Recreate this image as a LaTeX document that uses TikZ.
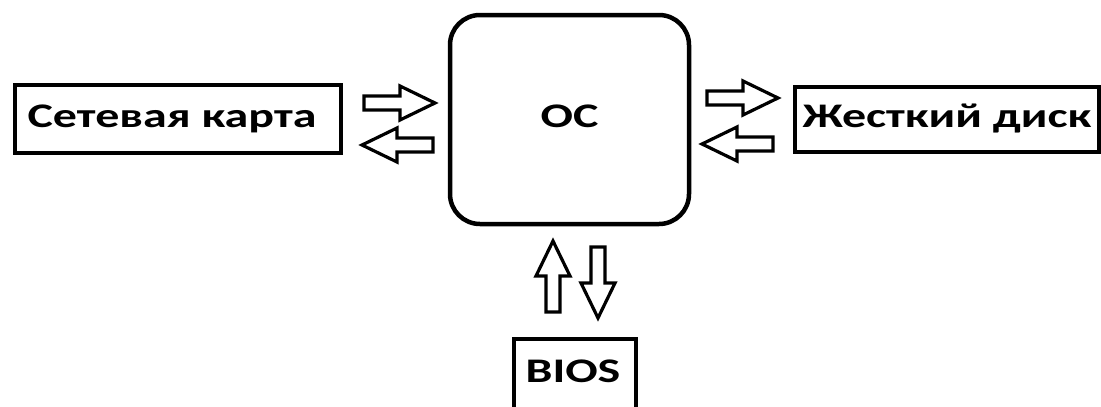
\documentclass[tikz,border=0pt]{standalone}
\usepackage{fontspec}
\setmainfont{Carlito}
\newcommand{\lbl}[1]{\scalebox{1.39}[1]{\bfseries #1}}
\begin{document}
\begin{tikzpicture}[x=1pt,y=-1pt,
  box/.style={draw, line width=3.5pt, inner sep=0pt, font=\fontsize{34.5}{40}\selectfont,
     text height=22pt, text depth=6pt},
  arrowline/.style={draw, line width=3.2pt, line join=miter, fill=white},
  pics/barrow/.style={code={
    \path[arrowline] (0,-7) -- (36,-7) -- (36,-17) -- (71,0) -- (36,17) -- (36,7) -- (0,7) -- cycle;
  }}]
\useasboundingbox (0,0) rectangle (1101,407);
\fill[white] (0,0) rectangle (1101,407);
\node[box, minimum width=326pt, minimum height=68pt] (net) at (178,119) {\lbl{Сетевая карта}\kern12pt};
\node[box, minimum width=304pt, minimum height=65pt] (hdd) at (947,119.5) {\lbl{Жесткий диск}};
\node[box, line width=4.5pt, rounded corners=30pt, minimum width=239pt, minimum height=209pt] (os) at (569.5,119.5) {\lbl{ОС}};
\node[box, minimum width=122pt, minimum height=71pt] (bios) at (575,374.5) {\lbl{BIOS}\kern4pt};
\pic at (364,103) {barrow};
\pic[rotate=180] at (433,145) {barrow};
\pic at (707,98) {barrow};
\pic[rotate=180] at (773,144) {barrow};
\pic[rotate=90] at (553,312) {barrow};
\pic[rotate=-90] at (598,247) {barrow};
\end{tikzpicture}
\end{document}
